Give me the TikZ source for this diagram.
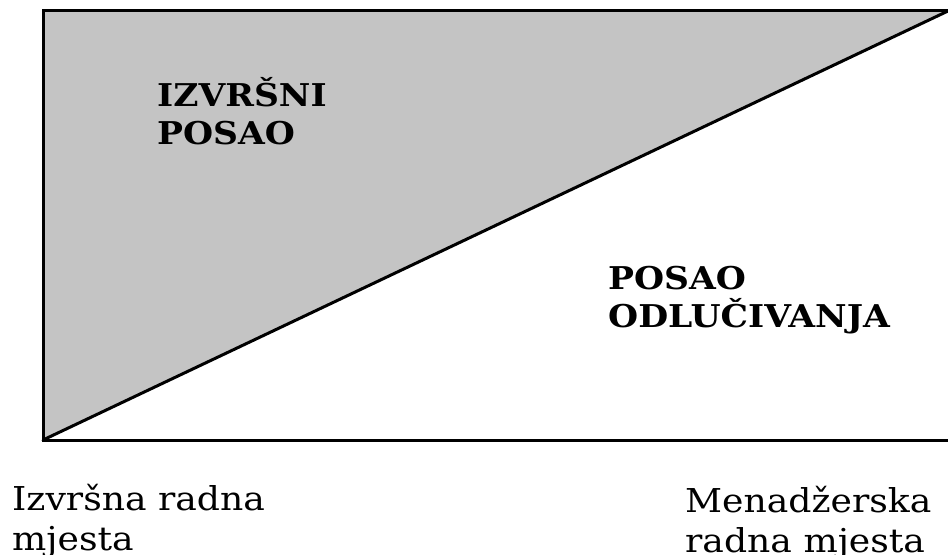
\documentclass[tikz,border=0pt]{standalone}
\usepackage{fontspec}
\setmainfont{DejaVu Serif}
\newfontfamily\widefont[FakeStretch=1.1]{DejaVu Serif}
\begin{document}
\begin{tikzpicture}[x=1bp,y=-1bp,
  frameline/.style={line width=3bp,line cap=round},
  biglabel/.style={font=\widefont\fontsize{31.5}{38.5}\selectfont\bfseries,align=left,inner sep=0pt,anchor=base west},
  axislabel/.style={font=\widefont\fontsize{33}{40}\selectfont,align=left,inner sep=0pt,anchor=base west}]
\useasboundingbox (0,0) rectangle (948,555);
\coordinate (tl) at (43,11);
\coordinate (tr) at (948,11);
\coordinate (bl) at (43,440);
\coordinate (br) at (948,440);
\fill[fill={rgb,255:red,196;green,196;blue,196}] (tl) -- (tr) -- (bl) -- cycle;
\draw[frameline] (tr) -- (tl) -- (bl) -- (br);
\draw[frameline] (bl) -- (tr);
\node[biglabel] (exec) at (157,145) {IZVRŠNI\\POSAO};
\node[biglabel] (dec) at (608,328) {POSAO\\ODLUČIVANJA};
\node[axislabel] (left) at (12,550) {Izvršna radna\\mjesta};
\node[axislabel] (right) at (685,552) {Menadžerska\\radna mjesta};
\end{tikzpicture}
\end{document}
